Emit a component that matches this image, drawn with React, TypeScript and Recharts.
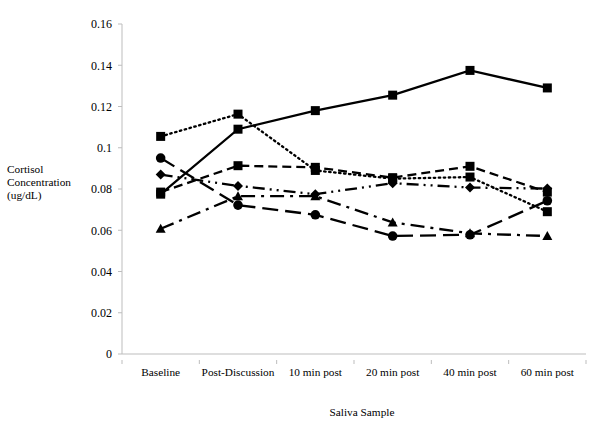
import React from 'react';
import { LineChart, Line, XAxis, YAxis, Label } from 'recharts';

const categories = ['Baseline', 'Post-Discussion', '10 min post', '20 min post', '40 min post', '60 min post'];
const solidSquares = [0.0775, 0.109, 0.118, 0.1255, 0.1375, 0.129];
const dottedSquares = [0.1055, 0.1163, 0.089, 0.085, 0.0858, 0.069];
const dashedSquares = [0.0785, 0.0913, 0.0905, 0.0855, 0.091, 0.0785];
const dashDotDotDiamonds = [0.087, 0.0815, 0.0775, 0.0828, 0.0807, 0.0802];
const longDashCircles = [0.095, 0.0722, 0.0675, 0.0572, 0.0578, 0.0743];
const dashDotTriangles = [0.0607, 0.0765, 0.0765, 0.0638, 0.0585, 0.0572];
const yTicks = [0, 0.02, 0.04, 0.06, 0.08, 0.1, 0.12, 0.14, 0.16];

const data = categories.map((name, i) => ({
  name,
  solid: solidSquares[i],
  dotted: dottedSquares[i],
  dashed: dashedSquares[i],
  dashDotDot: dashDotDotDiamonds[i],
  longDash: longDashCircles[i],
  dashDot: dashDotTriangles[i],
}));

const FONT = "'Liberation Serif', 'Times New Roman', serif";
const AXIS = '#bdbdbd';
const FS = 11.3;

const Square = ({ cx, cy }: any) => <rect x={cx - 4.5} y={cy - 4.5} width={9} height={9} fill="#000" />;
const Circle = ({ cx, cy }: any) => <circle cx={cx} cy={cy} r={4.8} fill="#000" />;
const Diamond = ({ cx, cy }: any) => (
  <polygon points={`${cx},${cy - 5} ${cx + 5},${cy} ${cx},${cy + 5} ${cx - 5},${cy}`} fill="#000" />
);
const Triangle = ({ cx, cy }: any) => (
  <polygon points={`${cx},${cy - 5} ${cx + 5},${cy + 4} ${cx - 5},${cy + 4}`} fill="#000" />
);

// category label centred in its band, tick marks on the band edges
const BandTick = ({ x, y, payload, index, visibleTicksCount }: any) => {
  const half = payload && payload.offset ? payload.offset : 38.67;
  const isLast = index === (visibleTicksCount ?? categories.length) - 1;
  return (
    <g>
      <line x1={x - half} y1={y - 10} x2={x - half} y2={y - 6} stroke={AXIS} />
      {isLast && <line x1={x + half} y1={y - 10} x2={x + half} y2={y - 6} stroke={AXIS} />}
      <text x={x} y={y + 6} textAnchor="middle" style={{ fontFamily: FONT, fontSize: FS, fill: '#000' }}>
        {payload.value}
      </text>
    </g>
  );
};

const YLabel = ({ viewBox }: any) => (
  <text x={7} y={viewBox.y + viewBox.height / 2 - 16} style={{ fontFamily: FONT, fontSize: FS, fill: '#000' }}>
    <tspan x={7} dy={0}>Cortisol</tspan>
    <tspan x={7} dy={13}>Concentration</tspan>
    <tspan x={7} dy={13}>(ug/dL)</tspan>
  </text>
);

export default function App() {
  const tickStyle = { fontFamily: FONT, fontSize: FS, fill: '#000' };
  return (
    <div style={{ position: 'absolute', left: 0, top: 0, background: '#fff', fontFamily: FONT }}>
      <LineChart width={600} height={421} data={data} margin={{ top: 24, right: 14, bottom: 0, left: 0 }} style={{ fontFamily: FONT }}>
        <XAxis
          dataKey="name"
          scale="band"
          stroke={AXIS}
          tickLine={false}
          tick={<BandTick />}
          tickMargin={10}
          height={67}
          interval={0}
        >
          <Label value="Saliva Sample" position="insideBottom" offset={5} dx={8} style={tickStyle} />
        </XAxis>
        <YAxis
          width={122}
          domain={[0, 0.16]}
          ticks={yTicks}
          stroke={AXIS}
          tickSize={4}
          tickMargin={6}
          tick={{ ...tickStyle, fontSize: 12 }}
          tickFormatter={(v: number) => String(v)}
          allowDataOverflow
        >
          <Label content={<YLabel />} />
        </YAxis>
        <Line dataKey="solid" stroke="#000" strokeWidth={2.3} dot={<Square />} isAnimationActive={false} />
        <Line dataKey="dotted" stroke="#000" strokeWidth={2.3} strokeDasharray="1.5 3.5" strokeLinecap="round" dot={<Square />} isAnimationActive={false} />
        <Line dataKey="dashed" stroke="#000" strokeWidth={2.3} strokeDasharray="9 5" dot={<Square />} isAnimationActive={false} />
        <Line dataKey="dashDotDot" stroke="#000" strokeWidth={2.3} strokeDasharray="12 5 2 5 2 5" dot={<Diamond />} isAnimationActive={false} />
        <Line dataKey="longDash" stroke="#000" strokeWidth={2.3} strokeDasharray="16 7" dot={<Circle />} isAnimationActive={false} />
        <Line dataKey="dashDot" stroke="#000" strokeWidth={2.3} strokeDasharray="14 6 3 6" dot={<Triangle />} isAnimationActive={false} />
      </LineChart>
    </div>
  );
}
